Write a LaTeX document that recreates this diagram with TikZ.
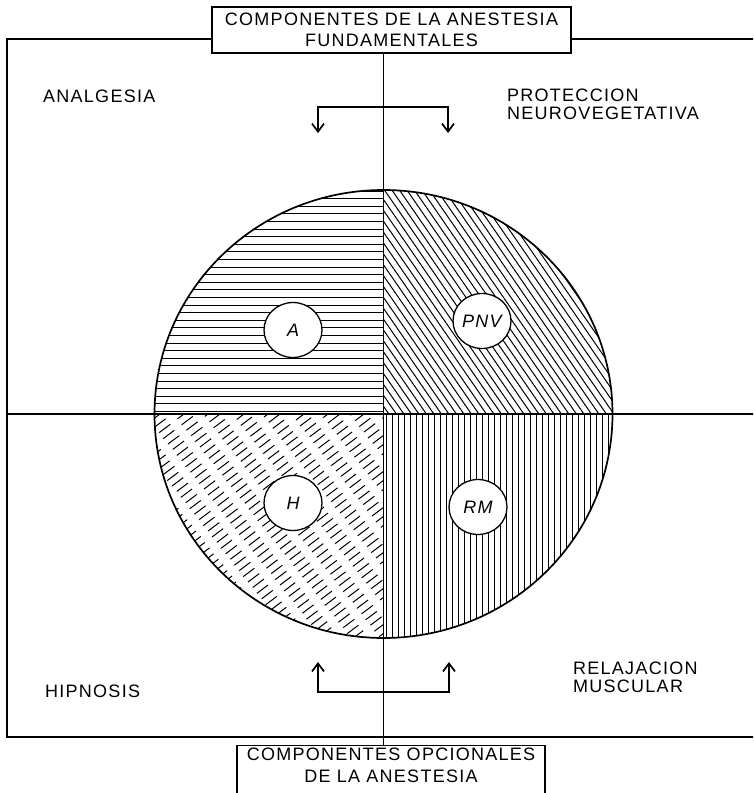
\documentclass[tikz,border=0pt]{standalone}
\usepackage{fontspec}
\setmainfont{Liberation Sans}[LetterSpace=7]
\usepackage{tikz}
\usetikzlibrary{arrows.meta,positioning,shapes.geometric,calc}

\begin{document}
\begin{tikzpicture}[x=1pt,y=-1pt,
    boxframe/.style={draw,fill=white,line width=1.2pt},
    titletext/.style={align=center,inner sep=0pt,font=\fontsize{18}{21.5}\selectfont},
    quadlbl/.style={align=left,inner sep=0pt,font=\fontsize{18}{17.5}\selectfont},
    comp/.style={ellipse,draw,fill=white,line width=1.3pt,minimum width=58pt,minimum height=55pt,inner sep=0pt,font=\fontsize{18}{18}\selectfont\itshape},
    axisline/.style={line width=1.4pt},
    hatch/.style={line width=1pt},
    brk/.style={line width=1.7pt,{Straight Barb[length=8pt,width=12pt,line width=1.7pt]}-{Straight Barb[length=8pt,width=12pt,line width=1.7pt]}}]
  \useasboundingbox (0,0) rectangle (753,793);
  \clip (0,0) rectangle (753,793);

  \coordinate (ctr) at (383.5,414);
  \coordinate (ftl) at (7,39);
  \coordinate (fbr) at (760,737);

  % the four hatched quarters
  \begin{scope}
    \clip (ctr) ellipse [x radius=229pt,y radius=224pt];
    \begin{scope}
      \clip (100,150) rectangle (ctr);
      \foreach \y in {191,198.6,...,414} \draw[hatch] (100,\y) -- (400,\y);
    \end{scope}
    \begin{scope}
      \clip (ctr) rectangle (700,150);
      \foreach \x in {205,212.5,...,630} \draw[hatch] (\x,180) -- ++(200,290);
    \end{scope}
    \begin{scope}
      \clip (100,680) rectangle (ctr);
      \foreach \x [count=\i, evaluate=\i as \ph using {mod(\i*9,22)}] in {-160,-148,...,400}
        \draw[hatch,dash pattern=on 14pt off 9pt,dash phase=\ph pt] (\x,645) -- ++(320,-240);
    \end{scope}
    \begin{scope}
      \clip (ctr) rectangle (700,680);
      \foreach \x in {386,392,...,620} \draw[hatch] (\x,400) -- (\x,650);
    \end{scope}
  \end{scope}
  \draw[line width=1.7pt] (ctr) ellipse [x radius=229pt,y radius=224pt];

  \node[boxframe,minimum width=359pt,minimum height=46pt] (fundbox) at (391.5,30) {};
  \node[titletext] (fundtext) at (fundbox.center) {COMPONENTES DE LA ANESTESIA\\FUNDAMENTALES};
  \node[boxframe,anchor=north,minimum width=308pt,minimum height=70pt] (opcbox) at (391,745) {};
  \node[titletext,below=3pt of opcbox.north] (opctext) {COMPONENTES OPCIONALES\\DE LA ANESTESIA};

  % frame and axes
  \draw[axisline] (fundbox.west |- ftl) -- (ftl) -- (ftl |- fbr) -- (fbr);
  \draw[axisline] (fundbox.east |- ftl) -- (fbr |- ftl);
  \draw[axisline] (ftl |- ctr) -- (fbr |- ctr);
  \draw[axisline] (ctr |- fundbox.south) -- (ctr |- opcbox.north);

  \node[comp] (nodeA) at (293,330) {A};
  \node[comp] (nodePNV) at (482,321) {PNV};
  \node[comp] (nodeH) at (293,503) {H};
  \node[comp] (nodeRM) at (478,507) {RM};

  \node[quadlbl,anchor=base west] (lblA) at (43,102) {ANALGESIA};
  \node[quadlbl,anchor=north west] (lblPNV) at (507,89) {PROTECCION\\NEUROVEGETATIVA};
  \node[quadlbl,anchor=base west] (lblH) at (45,697) {HIPNOSIS};
  \node[quadlbl,anchor=north west] (lblRM) at (573,662) {RELAJACION\\MUSCULAR};

  % brackets
  \coordinate (tl1) at (318,107);
  \coordinate (tr1) at (448,107);
  \coordinate (ttip) at (0,133);
  \draw[brk] (tl1 |- ttip) -- (tl1) -- (tr1) -- (tr1 |- ttip);
  \coordinate (bl1) at (318,692);
  \coordinate (br1) at (449,692);
  \coordinate (btip) at (0,662);
  \draw[brk] (bl1 |- btip) -- (bl1) -- (br1) -- (br1 |- btip);
\end{tikzpicture}
\end{document}
